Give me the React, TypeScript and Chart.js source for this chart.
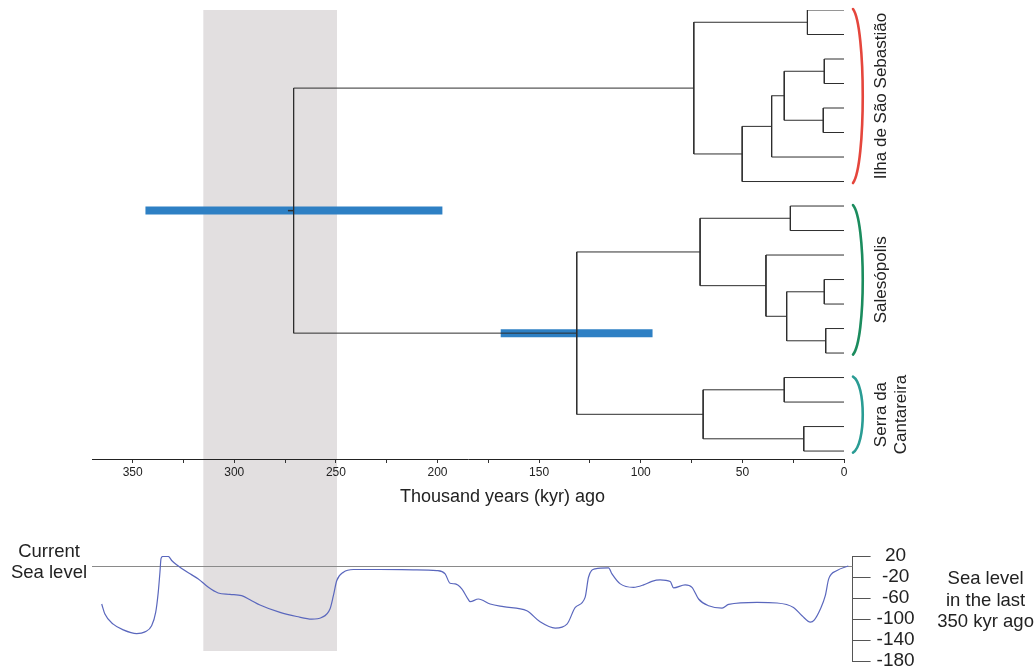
import React, { useEffect, useRef } from 'react';
import { Chart, registerables } from 'chart.js';

Chart.register(...registerables);

const FONT = '"Liberation Sans", Arial, Helvetica, sans-serif';
Chart.defaults.font.family = FONT;

// ---------------- Dendrogram data ----------------
// 19 terminal leaves, numbered top to bottom
const leafCount = 19;
// internal nodes (children listed before parents): L = leaf, N = node
const nodeChildren: [string, string][] = [
  ['L0', 'L1'], // N0
  ['L2', 'L3'], // N1
  ['L4', 'L5'], // N2
  ['N1', 'N2'], // N3
  ['N3', 'L6'], // N4
  ['N4', 'L7'], // N5
  ['N0', 'N5'], // N6  Ilha de São Sebastião
  ['L8', 'L9'], // N7
  ['L11', 'L12'], // N8
  ['L13', 'L14'], // N9
  ['N8', 'N9'], // N10
  ['L10', 'N10'], // N11
  ['N7', 'N11'], // N12 Salesópolis
  ['L15', 'L16'], // N13
  ['L17', 'L18'], // N14
  ['N13', 'N14'], // N15 Serra da Cantareira
  ['N12', 'N15'], // N16
  ['N6', 'N16'], // N17 root
];
// node ages, thousand years ago
const nodeAges = [18.0, 9.7, 10.2, 29.4, 35.6, 50.1, 73.9, 26.4, 9.7, 9.0, 28.2, 38.4, 70.8, 29.4, 19.8, 69.3, 131.5, 270.8];
const rootStemAge = 273.6;

// 95% intervals of node ages
const hpdNodes = [17, 16];
const hpdLow = [197.6, 94.2];
const hpdHigh = [343.7, 168.9];

// shaded period (kyr ago)
const bandFrom = 315.3;
const bandTo = 249.4;

// x axis
const xAxisMax = 370;
const xTickStep = 25;
const xLabelStep = 50;
const xTitle = 'Thousand years (kyr) ago';

// clades
const groupNames = ['Ilha de São Sebastião', 'Salesópolis', 'Serra da\nCantareira'];
const groupFirstLeaf = [0, 8, 15];
const groupLastLeaf = [7, 14, 18];
const groupColors = ['#e5463c', '#1b8c5e', '#2a9c94'];

// ---------------- Sea level data ----------------
const seaAge = [350.0, 348.5, 344.6, 339.9, 333.6, 329.7, 326.6, 324.7, 323.5, 322.7, 322.2, 321.4, 318.8, 317.2, 314.9, 308.6, 304.7, 300.0, 295.4, 289.9, 284.4, 280.5, 275.8, 266.4, 258.6, 251.5, 246.9, 243.0, 241.4, 239.8, 236.7, 232.0, 219.5, 203.9, 192.9, 189.0, 186.7, 184.3, 181.2, 178.1, 177.3, 173.4, 167.9, 161.7, 150.7, 144.5, 137.4, 131.9, 128.0, 123.4, 121.8, 118.7, 112.4, 110.8, 106.9, 100.7, 96.0, 92.1, 88.2, 83.5, 81.9, 76.5, 73.3, 70.2, 65.5, 59.2, 56.1, 42.8, 33.4, 25.7, 21.7, 17.8, 15.9, 13.1, 10.8, 9.2, 5.3, 0];
const seaLevel = [-71.5, -90.6, -109.8, -120.7, -127.8, -124.5, -113, -87.5, -49.2, -10.9, 14.8, 19.2, 19.2, 11.5, 3.3, -14, -23.6, -39.7, -50.4, -53.1, -55.6, -63.2, -73.4, -87.5, -95.2, -100.2, -97.1, -81, -55.6, -26.8, -10.9, -5.7, -5.7, -6.3, -7.7, -14, -32, -33.1, -42.7, -63.2, -67, -61.9, -71.5, -76.6, -84.3, -105.4, -117.4, -109.8, -78, -58.8, -20.5, -4.4, -2.5, -14, -33.1, -39.7, -35.1, -28.2, -25.5, -28.7, -40.8, -35.1, -39.7, -61.9, -74.7, -79.1, -72.2, -68.4, -69.5, -78, -93.9, -105.9, -101.5, -81, -55.6, -23.6, -7.7, 1];
const seaTickMin = -180;
const seaTickMax = 20;
const seaTickStep = 40;
const currentSeaLevel = 0;
const seaLeftLabel = ['Current', 'Sea level'];
const seaRightLabel = ['Sea level', 'in the last', '350 kyr ago'];

// ---------------- layout constants ----------------
const TOP_Y_MAX = 26.16; // leaf-index range of the upper canvas area (incl. shading below the axis)
const X_AXIS_AT = 18.33; // leaf-index where the time axis sits
const SEA_X_MIN = -2.0;
const SEA_X_MAX = 354.55;

function buildTree() {
  const ys: number[] = [];
  const refY = (r: string) => (r[0] === 'L' ? Number(r.slice(1)) : ys[Number(r.slice(1))]);
  const refAge = (r: string) => (r[0] === 'L' ? 0 : nodeAges[Number(r.slice(1))]);
  const segs: { x: number; y: number }[][] = [];
  nodeChildren.forEach(([a, b], i) => {
    const ya = refY(a);
    const yb = refY(b);
    ys[i] = (ya + yb) / 2;
    const age = nodeAges[i];
    segs.push([
      { x: refAge(a), y: ya },
      { x: age, y: ya },
      { x: age, y: yb },
      { x: refAge(b), y: yb },
    ]);
  });
  return { ys, segs };
}

const topAnnotations = {
  id: 'topAnnotations',
  afterDraw(chart: any) {
    const { ctx, chartArea, scales } = chart;
    const y = scales.y;
    const x = scales.x;
    ctx.save();
    // axis title
    ctx.fillStyle = '#222';
    ctx.font = `18px ${FONT}`;
    ctx.textAlign = 'center';
    ctx.textBaseline = 'middle';
    ctx.fillText(xTitle, x.getPixelForValue(168), y.getPixelForValue(X_AXIS_AT) + 38);

    // clade brackets + labels
    groupNames.forEach((name, i) => {
      const top = y.getPixelForValue(groupFirstLeaf[i]) - 1;
      const bottom = y.getPixelForValue(groupLastLeaf[i]) + 1.5;
      const h = bottom - top;
      const x0 = chartArea.right + 9;
      ctx.strokeStyle = groupColors[i];
      ctx.lineWidth = 2.6;
      ctx.lineCap = 'round';
      ctx.beginPath();
      ctx.moveTo(x0, top);
      ctx.bezierCurveTo(x0 + 13, top + h * 0.1, x0 + 13, bottom - h * 0.1, x0, bottom);
      ctx.stroke();

      const lines = name.split('\n');
      ctx.save();
      ctx.translate(chartArea.right + 37, (top + bottom) / 2);
      ctx.rotate(-Math.PI / 2);
      ctx.font = `17px ${FONT}`;
      ctx.fillStyle = '#222';
      ctx.textAlign = 'center';
      ctx.textBaseline = 'middle';
      lines.forEach((t, j) => ctx.fillText(t, 0, j * 20));
      ctx.restore();
    });
    ctx.restore();
  },
};

const seaAnnotations = {
  id: 'seaAnnotations',
  afterDraw(chart: any) {
    const { ctx, chartArea, scales } = chart;
    const y = scales.y;
    ctx.save();
    ctx.fillStyle = '#222';
    ctx.font = `18.5px ${FONT}`;
    ctx.textAlign = 'center';
    ctx.textBaseline = 'middle';
    const y0 = y.getPixelForValue(currentSeaLevel);
    seaLeftLabel.forEach((t, j) => ctx.fillText(t, chartArea.left - 43, y0 - 15 + j * 21));
    const yTop = y.getPixelForValue(seaTickMax);
    seaRightLabel.forEach((t, j) => ctx.fillText(t, chartArea.right + 133, yTop + 23 + j * 21.7));
    ctx.restore();
  },
};

function topConfig(): any {
  const { ys, segs } = buildTree();
  const datasets: any[] = [];
  segs.forEach((s) => {
    datasets.push({ data: s, borderColor: '#2e2e2e', borderWidth: 1, order: 0, fill: false });
  });
  const root = nodeChildren.length - 1;
  datasets.push({
    data: [{ x: nodeAges[root], y: ys[root] }, { x: rootStemAge, y: ys[root] }],
    borderColor: '#2e2e2e', borderWidth: 1.5, order: 0, fill: false,
  });
  hpdNodes.forEach((n, k) => {
    datasets.push({
      data: [{ x: hpdLow[k], y: ys[n] }, { x: hpdHigh[k], y: ys[n] }],
      borderColor: '#2e80c4', borderWidth: 8, borderCapStyle: 'butt', order: 1, fill: false,
    });
  });
  datasets.push({
    data: [{ x: bandFrom, y: 0 }, { x: bandTo, y: 0 }],
    borderWidth: 0, borderColor: 'rgba(0,0,0,0)', backgroundColor: '#e2dfe0',
    fill: { value: TOP_Y_MAX }, order: 2,
  });
  return {
    type: 'line',
    data: { datasets },
    options: {
      responsive: false,
      animation: false,
      layout: { padding: { left: 92, right: 190, top: 10, bottom: 17 } },
      plugins: { legend: { display: false }, tooltip: { enabled: false } },
      elements: { point: { radius: 0 }, line: { tension: 0 } },
      scales: {
        x: {
          type: 'linear', reverse: true, min: 0, max: xAxisMax,
          position: { y: X_AXIS_AT },
          afterBuildTicks: (s: any) => { s.ticks = s.ticks.filter((t: any) => t.value % xTickStep === 0); },
          ticks: {
            stepSize: xTickStep, autoSkip: false, maxRotation: 0, padding: 3, z: 1,
            color: '#222', font: { size: 12, family: FONT },
            callback: (v: number) => (v % xLabelStep === 0 ? String(v) : ''),
          },
          grid: { drawOnChartArea: false, drawTicks: true, tickLength: 3, color: '#333', z: 1 },
          border: { display: true, color: '#222', width: 1, z: 1 },
        },
        y: { type: 'linear', reverse: true, min: 0, max: TOP_Y_MAX, display: false },
      },
    },
    plugins: [topAnnotations],
  };
}

function seaConfig(): any {
  return {
    type: 'line',
    data: {
      datasets: [
        {
          data: seaAge.map((a, i) => ({ x: a, y: seaLevel[i] })),
          borderColor: '#5a67bd', borderWidth: 1.2, cubicInterpolationMode: 'monotone', fill: false,
        },
        {
          data: [{ x: SEA_X_MAX, y: currentSeaLevel }, { x: SEA_X_MIN, y: currentSeaLevel }],
          borderColor: '#8a8a8a', borderWidth: 1.2, fill: false,
        },
      ],
    },
    options: {
      responsive: false,
      animation: false,
      layout: { padding: { left: 92, right: 111.4, top: 556, bottom: 7 } },
      plugins: { legend: { display: false }, tooltip: { enabled: false } },
      elements: { point: { radius: 0 } },
      scales: {
        x: { type: 'linear', reverse: true, min: SEA_X_MIN, max: SEA_X_MAX, display: false },
        y: {
          type: 'linear', position: 'right', min: seaTickMin, max: seaTickMax,
          afterFit: (s: any) => { s.width = 70; s.paddingTop = 0; s.paddingBottom = 0; },
          ticks: {
            stepSize: seaTickStep, padding: 6, crossAlign: 'center', autoSkip: false,
            color: '#222', font: { size: 19, family: FONT, lineHeight: 1 },
          },
          grid: { drawOnChartArea: false, drawTicks: true, tickLength: 18, color: '#555' },
          border: { display: true, color: '#555', width: 1 },
        },
      },
    },
    plugins: [seaAnnotations],
  };
}

export default function App() {
  const topRef = useRef<HTMLCanvasElement>(null);
  const seaRef = useRef<HTMLCanvasElement>(null);
  useEffect(() => {
    const top = new Chart(topRef.current as HTMLCanvasElement, topConfig());
    const sea = new Chart(seaRef.current as HTMLCanvasElement, seaConfig());
    return () => {
      top.destroy();
      sea.destroy();
    };
  }, []);
  return (
    <div style={{ position: 'fixed', left: 0, top: 0, width: 1034, height: 668, background: '#fff' }}>
      <canvas ref={topRef} width={1034} height={668} style={{ position: 'absolute', left: 0, top: 0 }} />
      <canvas ref={seaRef} width={1034} height={668} style={{ position: 'absolute', left: 0, top: 0 }} />
    </div>
  );
}
